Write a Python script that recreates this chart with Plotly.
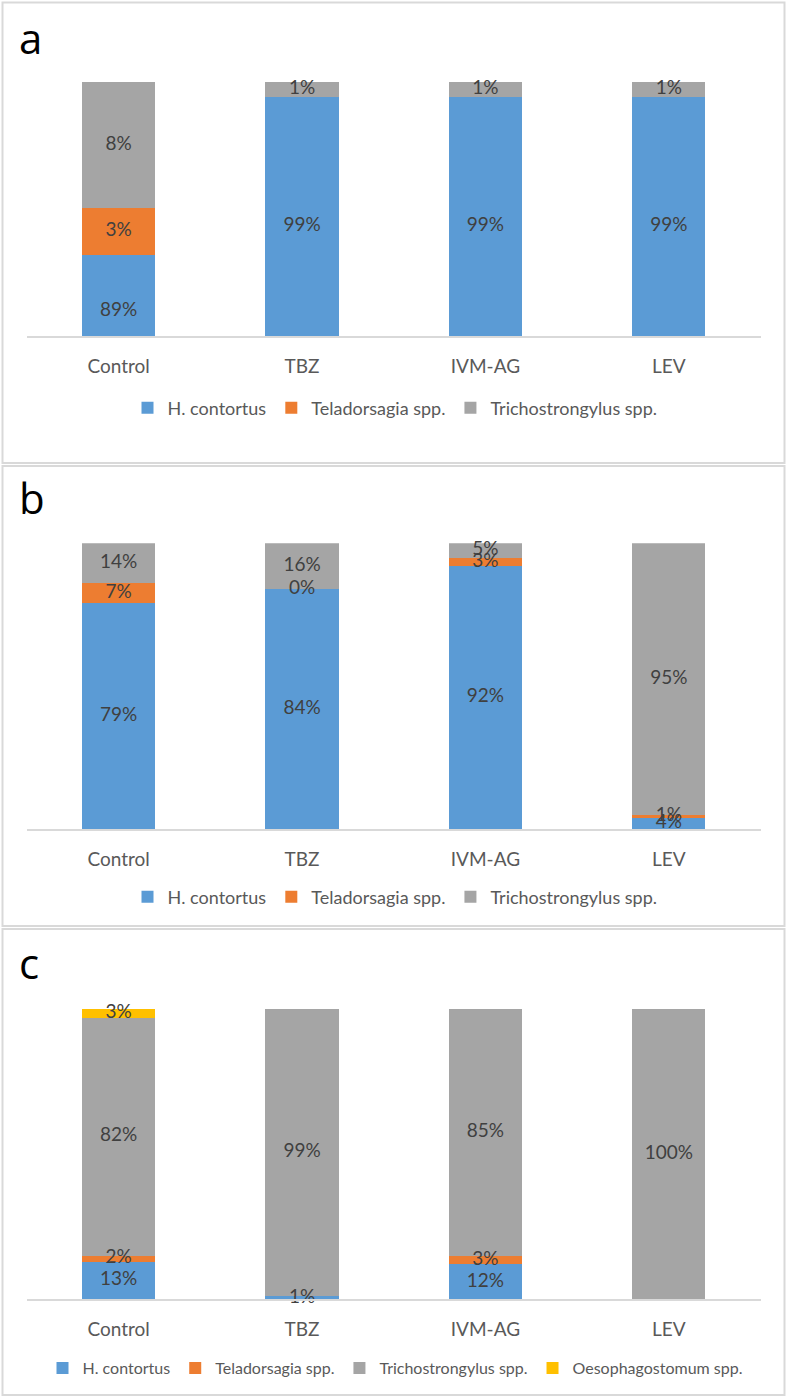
import numpy as np
import plotly.graph_objects as go

W, H = 787, 1397

categories = ["Control", "TBZ", "IVM-AG", "LEV"]
series_names = ["H. contortus", "Teladorsagia spp.", "Trichostrongylus spp.", "Oesophagostomum spp."]
colors = ["#5B9BD5", "#ED7D31", "#A5A5A5", "#FFC000"]

# Panel a: drawn bar heights (as in the picture) and the printed data labels
a_heights_hc = [31.8, 94.1, 94.1, 94.1]
a_heights_tel = [18.6, 0.0, 0.0, 0.0]
a_heights_tri = [49.6, 5.9, 5.9, 5.9]
a_labels_hc = ["89%", "99%", "99%", "99%"]
a_labels_tel = ["3%", "", "", ""]
a_labels_tri = ["8%", "1%", "1%", "1%"]
# where the H. contortus labels sit in panel a (axis units)
a_label_pos_hc = [9.8, 43.3, 43.3, 43.3]

# Panel b
b_hc = [79, 84, 92, 4]
b_tel = [7, 0, 3, 1]
b_tri = [14, 16, 5, 95]
b_labels_hc = ["79%", "84%", "92%", "4%"]
b_labels_tel = ["7%", "0%", "3%", "1%"]
b_labels_tri = ["14%", "16%", "5%", "95%"]

# Panel c
c_hc = [13, 1, 12, 0]
c_tel = [2, 0, 3, 0]
c_tri = [82, 99, 85, 100]
c_oes = [3, 0, 0, 0]
c_labels_hc = ["13%", "1%", "12%", ""]
c_labels_tel = ["2%", "", "3%", ""]
c_labels_tri = ["82%", "99%", "85%", "100%"]
c_labels_oes = ["3%", "", "", ""]

FONT = "Lato, 'Open Sans', Arial, sans-serif"
TXT = "#404040"
TICK = "#595959"


def py(pix):
    return 1 - pix / H


def px(pix):
    return pix / W


panels = [
    dict(key="", letter="a", letter_y=38, top=81.7, bottom=336, legend_y=408, box=(2.5, 463),
         legend_size=18,
         series=[a_heights_hc, a_heights_tel, a_heights_tri],
         labels=[a_labels_hc, a_labels_tel, a_labels_tri],
         label_pos={0: a_label_pos_hc}),
    dict(key="2", letter="b", letter_y=497, top=543.3, bottom=829, legend_y=897, box=(466, 926),
         legend_size=18,
         series=[b_hc, b_tel, b_tri],
         labels=[b_labels_hc, b_labels_tel, b_labels_tri],
         label_pos={}),
    dict(key="3", letter="c", letter_y=962, top=1009, bottom=1299.3, legend_y=1368, box=(929, 1395),
         legend_size=16,
         series=[c_hc, c_tel, c_tri, c_oes],
         labels=[c_labels_hc, c_labels_tel, c_labels_tri, c_labels_oes],
         label_pos={}),
]

fig = go.Figure()
shapes = []
annotations = []
x_dom = [px(27), px(760.5)]

for i, p in enumerate(panels):
    k = p["key"]
    xa = "x" + k
    ya = "y" + k
    leg = "legend" + k
    base = np.zeros(len(categories))
    for s, (vals, labs) in enumerate(zip(p["series"], p["labels"])):
        vals = np.array(vals, dtype=float)
        fig.add_trace(go.Bar(
            x=categories, y=vals, name=series_names[s],
            marker=dict(color=colors[s], line=dict(width=0)),
            xaxis=xa, yaxis=ya, legend=leg, showlegend=True,
            hoverinfo="skip",
        ))
        if s in p["label_pos"]:
            mids = np.array(p["label_pos"][s], dtype=float)
        else:
            mids = base + vals / 2
        fig.add_trace(go.Scatter(
            x=categories, y=mids, mode="text", text=labs,
            textfont=dict(family=FONT, size=19, color=TXT),
            xaxis=xa, yaxis=ya, showlegend=False, cliponaxis=False,
            hoverinfo="skip",
        ))
        base = base + vals

    fig.layout["xaxis" + k] = dict(
        domain=x_dom, anchor=ya, type="category",
        showline=True, linecolor="#D9D9D9", linewidth=1.5,
        showgrid=False, zeroline=False, ticks="",
        tickfont=dict(family=FONT, size=19, color=TICK),
        ticklabelstandoff=12, fixedrange=True,
    )
    fig.layout["yaxis" + k] = dict(
        domain=[py(p["bottom"]), py(p["top"])], anchor=xa,
        range=[0, 100], visible=False, fixedrange=True,
    )
    fig.layout[leg] = dict(
        orientation="h", x=px(395), xanchor="center",
        y=py(p["legend_y"]), yanchor="middle",
        font=dict(family=FONT, size=p["legend_size"], color=TICK),
        itemwidth=30, traceorder="normal",
        bgcolor="rgba(0,0,0,0)",
    )
    y0, y1 = p["box"]
    shapes.append(dict(type="rect", xref="paper", yref="paper",
                       x0=px(2.5), x1=px(784.5), y0=py(y1), y1=py(y0),
                       line=dict(color="#D9D9D9", width=2)))
    annotations.append(dict(text=p["letter"], xref="paper", yref="paper",
                            x=px(17), y=py(p["letter_y"]), xanchor="left", yanchor="middle",
                            showarrow=False,
                            font=dict(family="'Open Sans', Lato, sans-serif", size=42, color="#000000")))

fig.update_layout(
    width=W, height=H,
    margin=dict(l=0, r=0, t=0, b=0),
    paper_bgcolor="white", plot_bgcolor="white",
    barmode="stack", bargap=0.6,
    shapes=shapes, annotations=annotations,
    showlegend=True,
)

fig.write_html(
    "out.html",
    config={"displayModeBar": False},
    post_script="document.body.style.margin='0';document.body.style.padding='0';document.body.style.overflow='hidden';",
)
